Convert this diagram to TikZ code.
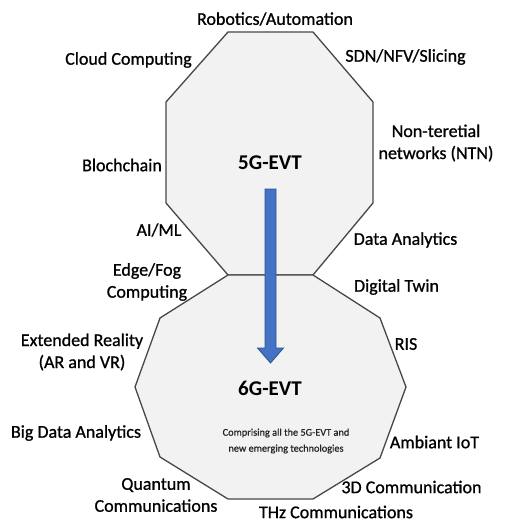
\documentclass[tikz,border=0pt]{standalone}
\usepackage{fontspec}
\setmainfont{Carlito}
\newfontfamily\labelfont{Carlito}[FakeBold=0.9]
\usetikzlibrary{calc}
\definecolor{octfill}{HTML}{F2F2F2}
\definecolor{octline}{HTML}{474747}
\definecolor{arrblue}{HTML}{4472C4}
\definecolor{arrline}{HTML}{2F528F}
\tikzset{
  tech/.style={font=\labelfont\fontsize{18}{22}\selectfont, align=center, inner sep=0pt, text=black},
  gen/.style={font=\fontsize{21}{24}\selectfont\bfseries, inner sep=0pt, text=black},
  note/.style={font=\labelfont\fontsize{10.3}{16}\selectfont, align=center, inner sep=0pt, text=black!85},
  poly/.style={draw=octline, fill=octfill, line width=1.3pt, line join=miter},
  bluearrow/.style={draw=arrline, fill=arrblue, line width=0.8pt},
}
\begin{document}
\begin{tikzpicture}[x=1pt,y=-1pt]
\useasboundingbox (0,0) rectangle (504,527);

% 5G-EVT polygon
\coordinate (a1) at (228,32);
\coordinate (a2) at (313,32);
\coordinate (a3) at (373,102);
\coordinate (a4) at (373,203);
\coordinate (w2) at (313,275);
\coordinate (w1) at (228,275);
\coordinate (a7) at (166,203);
\coordinate (a8) at (166,102);
\path[poly] (a1) -- (a2) -- (a3) -- (a4) -- (w2) -- (w1) -- (a7) -- (a8) -- cycle;

% 6G-EVT polygon
\coordinate (b1) at (380,318);
\coordinate (b2) at (406,387);
\coordinate (b3) at (380,458);
\coordinate (b4) at (313,499);
\coordinate (b5) at (228,499);
\coordinate (b6) at (160,457);
\coordinate (b7) at (135,387);
\coordinate (b8) at (160,318);
\path[poly] (w1) -- (w2) -- (b1) -- (b2) -- (b3) -- (b4) -- (b5) -- (b6) -- (b7) -- (b8) -- cycle;

\node[gen] (5g) at (270,163) {5G-EVT};
\node[gen] (6g) at (270,388) {6G-EVT};
\node[note] (comp) at (286,441) {Comprising all the 5G-EVT and\\new emerging technologies};

% arrow from 5G to 6G
\coordinate (arrtop) at (270.5,189);
\coordinate (arrtip) at (270.5,363);
\path[bluearrow] ($(arrtop)+(-5.5,0)$) -- ($(arrtop)+(5.5,0)$) -- ($(arrtip)+(5.5,-15)$)
  -- ($(arrtip)+(13,-15)$) -- (arrtip) -- ($(arrtip)+(-13,-15)$)
  -- ($(arrtip)+(-5.5,-15)$) -- cycle;

% technologies
\node[tech] (robot) at (275,19) {Robotics/Automation};
\node[tech] (cloud) at (128.5,60) {Cloud Computing};
\node[tech] (sdn) at (405.5,57) {SDN/NFV/Slicing};
\node[tech] (ntn) at (436,143) {Non-teretial\\networks (NTN)};
\node[tech] (block) at (122,165) {Blochchain};
\node[tech] (aiml) at (159,230) {AI/ML};
\node[tech] (data) at (405.5,240) {Data Analytics};
\node[tech] (edge) at (147,282) {Edge/Fog\\Computing};
\node[tech] (twin) at (396.5,287) {Digital Twin};
\node[tech] (xr) at (82,352) {Extended Reality\\(AR and VR)};
\node[tech] (ris) at (406,344) {RIS};
\node[tech] (bigdata) at (76,433) {Big Data Analytics};
\node[tech] (iot) at (434.5,442) {Ambiant IoT};
\node[tech] (quantum) at (156,495) {Quantum\\Communications};
\node[tech] (threed) at (411.5,487) {3D Communication};
\node[tech] (thz) at (336,512) {THz Communications};
\end{tikzpicture}
\end{document}
